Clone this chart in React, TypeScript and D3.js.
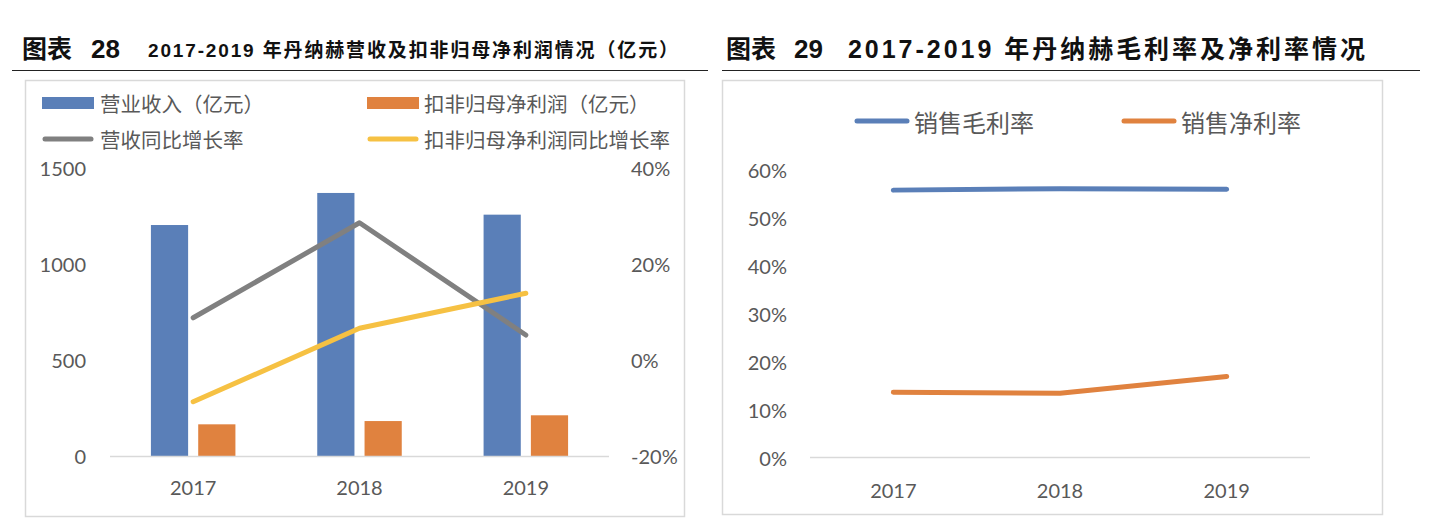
import React from "react";
import * as d3 from "d3";

const years = ["2017", "2018", "2019"];
const revenue = [1203, 1370, 1257];
const profit = [165, 182, 212];
const revenueGrowth = [8.8, 28.6, 5.2];
const profitGrowth = [-8.7, 6.6, 13.9];
const grossMargin = [55.8, 56.1, 56.0];
const netMargin = [13.6, 13.4, 16.9];
const leftTicks = [0, 500, 1000, 1500];
const rightTicks = [-20, 0, 20, 40];
const marginTicks = [0, 10, 20, 30, 40, 50, 60];

const leftLegend = ["营业收入（亿元）", "扣非归母净利润（亿元）", "营收同比增长率", "扣非归母净利润同比增长率"];
const rightLegend = ["销售毛利率", "销售净利率"];

const BLUE = "#5A7FB8";
const ORANGE = "#E0823F";
const GRAY = "#808080";
const YELLOW = "#F6C143";
const TXT = "#595959";
const FONT = "Lato, 'Noto Sans CJK SC', sans-serif";
const CJK = "'Noto Sans CJK SC', sans-serif";
const TITLE = "'Liberation Sans', 'Noto Sans CJK SC', sans-serif";

export default function App() {
  // Left chart scales
  const xL = d3.scaleBand<string>().domain(years).range([110, 609]).paddingInner(0).paddingOuter(0);
  const sub = d3.scaleBand<string>().domain(["rev", "profit"]).range([0, xL.bandwidth()]).paddingInner(0.2135).paddingOuter(0.865);
  const yL = d3.scaleLinear().domain([0, 1500]).range([456, 168]);
  const yR = d3.scaleLinear().domain([-20, 40]).range([456, 168]);
  const cx = (y: string) => (xL(y) as number) + xL.bandwidth() / 2;
  const lineL = (vals: number[]) =>
    d3.line<number>().x((_, i) => cx(years[i])).y((v) => yR(v))(vals) as string;

  // Right chart scales
  const xR = d3.scaleBand<string>().domain(years).range([810, 1310]);
  const yM = d3.scaleLinear().domain([0, 60]).range([457.5, 170]);
  const cxR = (y: string) => (xR(y) as number) + xR.bandwidth() / 2;
  const lineR = (vals: number[]) =>
    d3.line<number>().x((_, i) => cxR(years[i])).y((v) => yM(v))(vals) as string;

  return (
    <svg width={1436} height={526} style={{ position: "absolute", left: 0, top: 0, background: "#fff" }}>
      {/* Titles */}
      <text x={22} y={58} fontFamily={TITLE} fontWeight="bold" fontSize={25} fill="#111">图表</text>
      <text x={91} y={58} fontFamily={TITLE} fontWeight="bold" fontSize={26} fill="#111">28</text>
      <text x={148} y={57} fontFamily={TITLE} fontWeight="bold" fontSize={19} fill="#111" textLength={530} lengthAdjust="spacing">
        2017-2019 年丹纳赫营收及扣非归母净利润情况（亿元）
      </text>
      <text x={726} y={58} fontFamily={TITLE} fontWeight="bold" fontSize={25} fill="#111">图表</text>
      <text x={794} y={58} fontFamily={TITLE} fontWeight="bold" fontSize={26} fill="#111">29</text>
      <text x={848} y={58} fontFamily={TITLE} fontWeight="bold" fontSize={25} fill="#111" textLength={517} lengthAdjust="spacing">
        2017-2019 年丹纳赫毛利率及净利率情况
      </text>
      <line x1={12} x2={708} y1={70.5} y2={70.5} stroke="#222" strokeWidth={1.2} />
      <line x1={722} x2={1420} y1={70.5} y2={70.5} stroke="#222" strokeWidth={1.2} />

      {/* Frames */}
      <rect x={25.5} y={80.5} width={659} height={436} fill="none" stroke="#d9d9d9" strokeWidth={1.5} />
      <rect x={722.5} y={80.5} width={660} height={434} fill="none" stroke="#d9d9d9" strokeWidth={1.5} />

      {/* Left legend */}
      <rect x={42} y={97} width={52} height={12} fill={BLUE} />
      <text x={100} y={103} dominantBaseline="central" fontFamily={CJK} fontSize={20.5} fill={TXT}>{leftLegend[0]}</text>
      <rect x={367} y={97} width={52} height={12} fill={ORANGE} />
      <text x={424} y={103} dominantBaseline="central" fontFamily={CJK} fontSize={20.5} fill={TXT}>{leftLegend[1]}</text>
      <line x1={45} x2={91} y1={139} y2={139} stroke={GRAY} strokeWidth={5} strokeLinecap="round" />
      <text x={100} y={139} dominantBaseline="central" fontFamily={CJK} fontSize={20.5} fill={TXT}>{leftLegend[2]}</text>
      <line x1={370} x2={416} y1={139} y2={139} stroke={YELLOW} strokeWidth={5} strokeLinecap="round" />
      <text x={424} y={139} dominantBaseline="central" fontFamily={CJK} fontSize={20.5} fill={TXT}>{leftLegend[3]}</text>

      {/* Left axis labels */}
      {leftTicks.map((t) => (
        <text key={"l" + t} x={86} y={yL(t)} textAnchor="end" dominantBaseline="central" fontFamily={FONT} fontSize={20} fill={TXT}>
          {t}
        </text>
      ))}
      {rightTicks.map((t) => (
        <text key={"r" + t} x={631} y={yR(t)} textAnchor="start" dominantBaseline="central" fontFamily={FONT} fontSize={20} fill={TXT}>
          {t + "%"}
        </text>
      ))}

      {/* Bars */}
      {years.map((y, i) => (
        <g key={"b" + y}>
          <rect x={(xL(y) as number) + (sub("rev") as number)} y={yL(revenue[i])} width={sub.bandwidth()} height={yL(0) - yL(revenue[i])} fill={BLUE} />
          <rect x={(xL(y) as number) + (sub("profit") as number)} y={yL(profit[i])} width={sub.bandwidth()} height={yL(0) - yL(profit[i])} fill={ORANGE} />
        </g>
      ))}
      <line x1={110} x2={609} y1={yL(0) + 0.5} y2={yL(0) + 0.5} stroke="#d9d9d9" strokeWidth={1.5} />
      <path d={lineL(revenueGrowth)} fill="none" stroke={GRAY} strokeWidth={5} strokeLinecap="round" strokeLinejoin="round" />
      <path d={lineL(profitGrowth)} fill="none" stroke={YELLOW} strokeWidth={5} strokeLinecap="round" strokeLinejoin="round" />
      {years.map((y) => (
        <text key={"xl" + y} x={cx(y)} y={487} textAnchor="middle" dominantBaseline="central" fontFamily={FONT} fontSize={20} fill={TXT}>
          {y}
        </text>
      ))}

      {/* Right legend */}
      <line x1={857} x2={907} y1={121} y2={121} stroke={BLUE} strokeWidth={5} strokeLinecap="round" />
      <text x={914} y={121} dominantBaseline="central" fontFamily={CJK} fontSize={24} fill={TXT}>{rightLegend[0]}</text>
      <line x1={1124} x2={1174} y1={121} y2={121} stroke={ORANGE} strokeWidth={5} strokeLinecap="round" />
      <text x={1181} y={121} dominantBaseline="central" fontFamily={CJK} fontSize={24} fill={TXT}>{rightLegend[1]}</text>

      {/* Right axis */}
      {marginTicks.map((t) => (
        <text key={"m" + t} x={787} y={yM(t)} textAnchor="end" dominantBaseline="central" fontFamily={FONT} fontSize={20} fill={TXT}>
          {t + "%"}
        </text>
      ))}
      <line x1={810} x2={1310} y1={yM(0)} y2={yM(0)} stroke="#d9d9d9" strokeWidth={1.5} />
      <path d={lineR(grossMargin)} fill="none" stroke={BLUE} strokeWidth={5} strokeLinecap="round" strokeLinejoin="round" />
      <path d={lineR(netMargin)} fill="none" stroke={ORANGE} strokeWidth={5} strokeLinecap="round" strokeLinejoin="round" />
      {years.map((y) => (
        <text key={"xr" + y} x={cxR(y)} y={490} textAnchor="middle" dominantBaseline="central" fontFamily={FONT} fontSize={20} fill={TXT}>
          {y}
        </text>
      ))}
    </svg>
  );
}
